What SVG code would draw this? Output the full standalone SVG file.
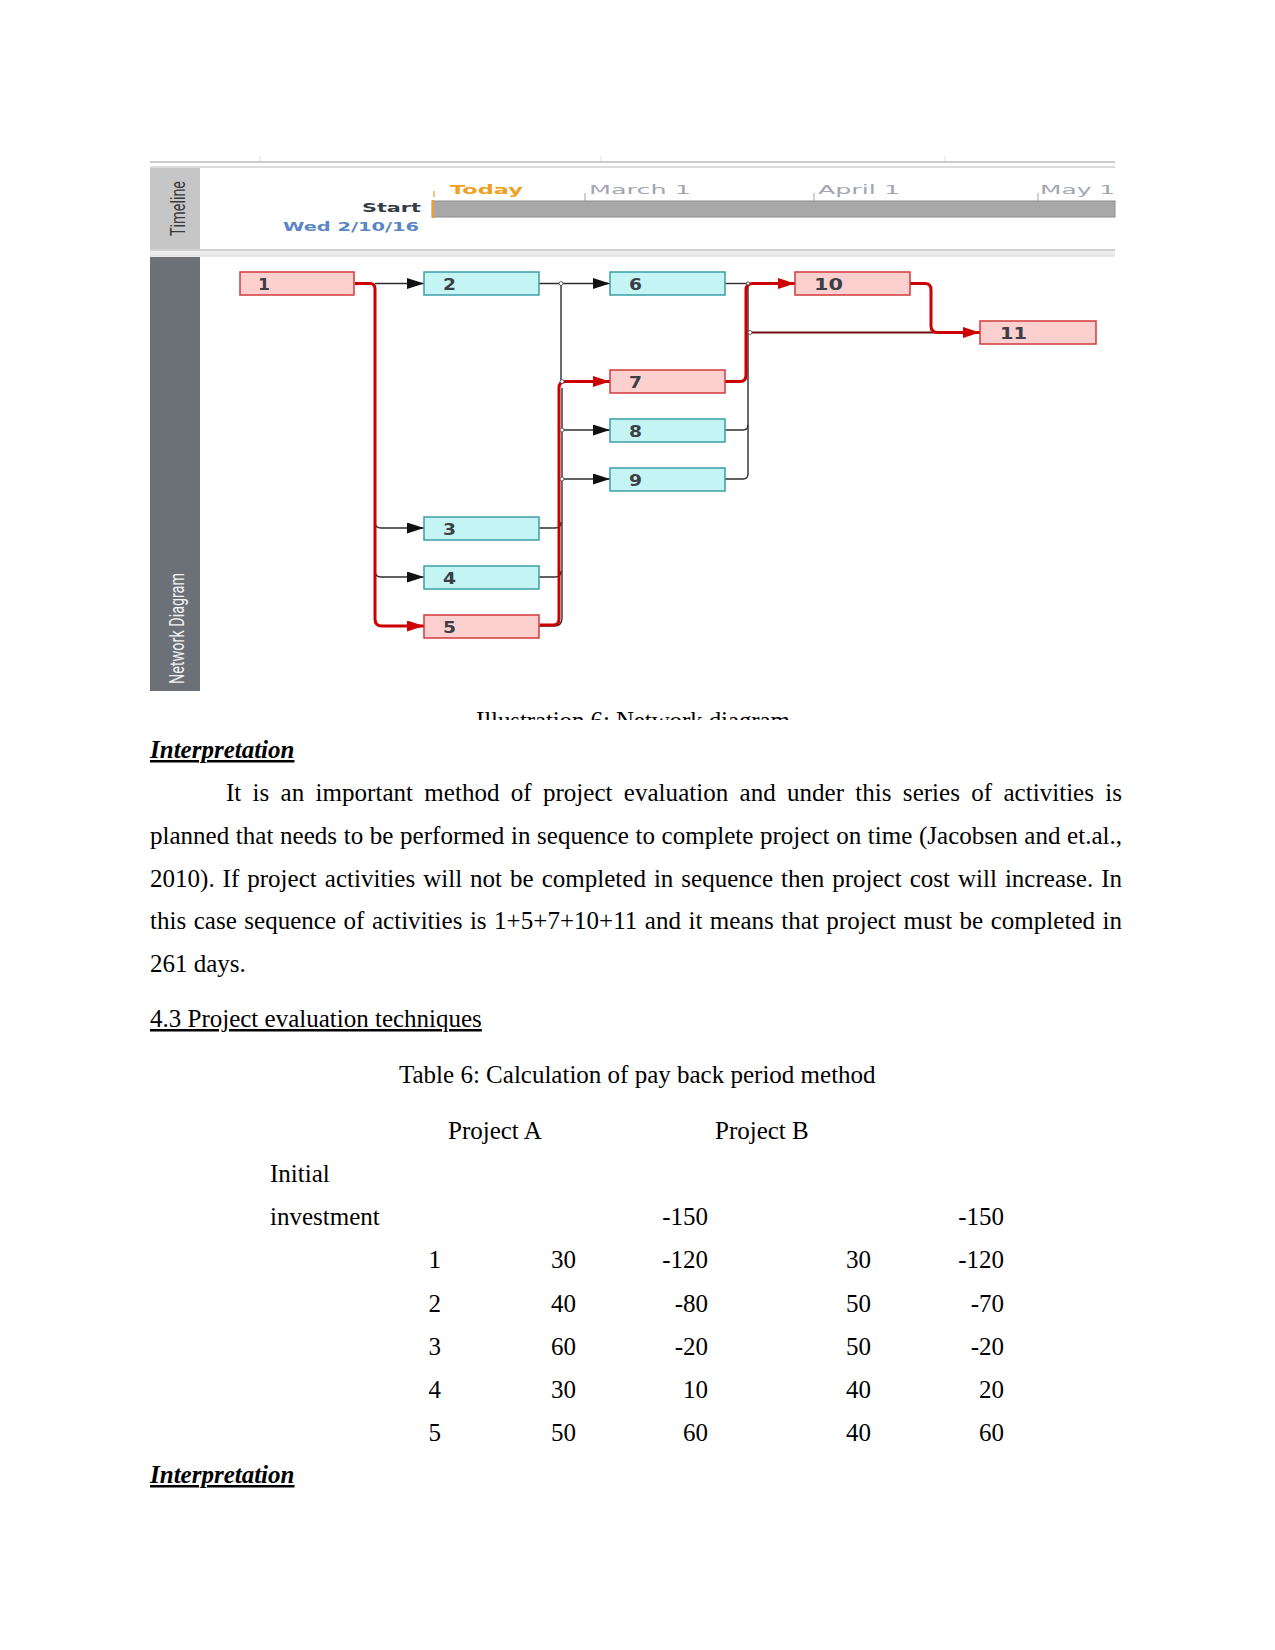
<svg xmlns="http://www.w3.org/2000/svg" width="1275" height="1650" viewBox="0 0 1275 1650">
<style>
.lbl{font-family:"DejaVu Sans",sans-serif;font-weight:bold;font-size:15px;fill:#3a4046}
.nr rect{fill:#fdd0d0;stroke:#d23a3a;stroke-width:1.5}
.nc rect{fill:#c4f4f4;stroke:#3a9ea6;stroke-width:1.5}
.red{fill:none;stroke:#cc0000;stroke-width:3;stroke-linejoin:round}
.blk{fill:none;stroke:#2e2e2e;stroke-width:1.4}
.mar{fill:none;stroke:#6e0a0a;stroke-width:2.2}
.jn{fill:#fff;stroke:#444;stroke-width:0.8}
.body{font-family:"Liberation Serif","Times New Roman",serif;font-size:25px;fill:#000}
.tl{font-family:"DejaVu Sans",sans-serif;font-size:13px}
</style>
<defs>
<marker id="ab" markerWidth="17" markerHeight="11" refX="17" refY="5.5" orient="auto" markerUnits="userSpaceOnUse"><path d="M0,0 L17,5.5 L0,11 Z" fill="#111"/></marker>
<marker id="ar" markerWidth="17" markerHeight="11" refX="17" refY="5.5" orient="auto" markerUnits="userSpaceOnUse"><path d="M0,0 L17,5.5 L0,11 Z" fill="#cc0000"/></marker>
<clipPath id="capclip"><rect x="0" y="690" width="1275" height="30"/></clipPath>
</defs>
<rect width="1275" height="1650" fill="#fff"/>

<!-- Timeline panel -->
<g id="timeline">
<line x1="150" y1="162" x2="1115" y2="162" stroke="#b8b8b8" stroke-width="1.5"/>
<line x1="260" y1="156" x2="260" y2="161" stroke="#ddd"/>
<line x1="601" y1="156" x2="601" y2="161" stroke="#ddd"/>
<line x1="945" y1="156" x2="945" y2="161" stroke="#ddd"/>
<line x1="150" y1="167" x2="1115" y2="167" stroke="#cfcfcf" stroke-width="1.5"/>
<rect x="150" y="168" width="50" height="81" fill="#c6c6c6"/>
<rect x="200" y="168" width="915" height="81" fill="#fff"/>
<text transform="translate(185,236) rotate(-90)" font-family="Roboto,sans-serif" font-size="20" fill="#3a3a3a" textLength="55" lengthAdjust="spacingAndGlyphs">Timeline</text>
<rect x="432" y="201" width="683" height="16" fill="#a8a8a8" stroke="#8c8c8c" stroke-width="1"/>
<line x1="433" y1="200" x2="433" y2="218" stroke="#f0a020" stroke-width="2"/>
<line x1="434" y1="191" x2="434" y2="197" stroke="#f0a020" stroke-width="1.2"/>
<line x1="585" y1="193" x2="585" y2="201" stroke="#a0a4b0" stroke-width="1"/>
<line x1="814" y1="193" x2="814" y2="201" stroke="#a0a4b0" stroke-width="1"/>
<line x1="1038" y1="193" x2="1038" y2="201" stroke="#a0a4b0" stroke-width="1"/>
<text class="tl" x="450" y="194" fill="#f0a020" font-weight="bold" textLength="73" lengthAdjust="spacingAndGlyphs">Today</text>
<text class="tl" x="589" y="194" fill="#a2a6b2" textLength="102" lengthAdjust="spacingAndGlyphs">March 1</text>
<text class="tl" x="818" y="194" fill="#a2a6b2" textLength="82" lengthAdjust="spacingAndGlyphs">April 1</text>
<text class="tl" x="1040" y="194" fill="#a2a6b2" textLength="75" lengthAdjust="spacingAndGlyphs">May 1</text>
<text class="tl" x="362" y="212" fill="#333d47" font-weight="bold" textLength="59" lengthAdjust="spacingAndGlyphs">Start</text>
<text class="tl" x="283" y="231" fill="#5a86c4" font-size="11" font-weight="bold" textLength="136" lengthAdjust="spacingAndGlyphs">Wed 2/10/16</text>
<rect x="150" y="249" width="965" height="7" fill="#ececec"/>
<line x1="150" y1="250" x2="1115" y2="250" stroke="#c8c8c8" stroke-width="1.5"/>
<line x1="150" y1="256" x2="1115" y2="256" stroke="#d4d4d4" stroke-width="1"/>
</g>

<!-- Network diagram panel -->
<g id="network-panel">
<rect x="150" y="257" width="50" height="434" fill="#6c7077"/>
<text transform="translate(184,684) rotate(-90)" font-family="Roboto,sans-serif" font-size="21" fill="#f2f2f2" textLength="111" lengthAdjust="spacingAndGlyphs">Network Diagram</text>
</g>

<!-- Connectors -->
<g id="connectors">
<path class="blk" d="M375,283.5 H424" marker-end="url(#ab)"/>
<path class="blk" d="M375,522 Q375,528 381,528 H424" marker-end="url(#ab)"/>
<path class="blk" d="M375,571 Q375,577 381,577 H424" marker-end="url(#ab)"/>
<path class="red" d="M355,283.5 H370 Q375,283.5 375,289 V619 Q375,626 382,626 H424" marker-end="url(#ar)"/>

<path class="blk" d="M539,283.5 H610" marker-end="url(#ab)"/>
<path class="blk" d="M561,283.5 V381"/>
<path class="blk" d="M539,528 H555 Q561,528 561,522"/>
<path class="blk" d="M539,577 H555 Q561,577 561,571"/>
<path class="blk" d="M539,626 H554 Q562,626 562,618 V388" stroke-width="2.4"/>
<path class="blk" d="M561,430 H610" marker-end="url(#ab)"/>
<path class="blk" d="M561,479 H610" marker-end="url(#ab)"/>
<path class="red" d="M540,625 H553 Q559,625 559,619 V388 Q559,381.5 566,381.5 H610" marker-end="url(#ar)"/>
<circle class="jn" cx="561" cy="283.5" r="2"/>
<circle class="jn" cx="562" cy="381.5" r="2"/>
<circle class="jn" cx="562" cy="430" r="2"/>
<circle class="jn" cx="562" cy="479" r="2"/>

<path class="blk" d="M725,283.5 H748"/>
<path class="blk" d="M725,430 H743 Q748,430 748,425"/>
<path class="blk" d="M725,479 H743 Q748,479 748,474"/>
<path class="blk" d="M748,283.5 V474" stroke-width="2"/>
<path class="red" d="M725,381.5 H740 Q746,381.5 746,375 V290 Q746,283.5 753,283.5 H795" marker-end="url(#ar)"/>
<path class="mar" d="M748,332.5 H965"/>
<path class="red" d="M910,283.5 H925 Q931,283.5 931,290 V326 Q931,332.5 938,332.5 H980" marker-end="url(#ar)"/>
<circle class="jn" cx="750" cy="332.5" r="2"/>
<circle class="jn" cx="748" cy="283.5" r="1.6"/>
</g>

<!-- Nodes -->
<g id="node-1" class="nr"><rect x="240" y="272" width="114" height="23"/><text class="lbl" x="258" y="289.5" textLength="12" lengthAdjust="spacingAndGlyphs">1</text></g>
<g id="node-2" class="nc"><rect x="424" y="272" width="115" height="23"/><text class="lbl" x="443" y="289.5" textLength="13" lengthAdjust="spacingAndGlyphs">2</text></g>
<g id="node-6" class="nc"><rect x="610" y="272" width="115" height="23"/><text class="lbl" x="629" y="289.5" textLength="13" lengthAdjust="spacingAndGlyphs">6</text></g>
<g id="node-10" class="nr"><rect x="795" y="272" width="115" height="23"/><text class="lbl" x="814" y="289.5" textLength="29" lengthAdjust="spacingAndGlyphs">10</text></g>
<g id="node-11" class="nr"><rect x="980" y="321" width="116" height="23"/><text class="lbl" x="1000" y="338.5" textLength="27" lengthAdjust="spacingAndGlyphs">11</text></g>
<g id="node-7" class="nr"><rect x="610" y="370" width="115" height="23"/><text class="lbl" x="629" y="387.5" textLength="13" lengthAdjust="spacingAndGlyphs">7</text></g>
<g id="node-8" class="nc"><rect x="610" y="419" width="115" height="23"/><text class="lbl" x="629" y="436.5" textLength="13" lengthAdjust="spacingAndGlyphs">8</text></g>
<g id="node-9" class="nc"><rect x="610" y="468" width="115" height="23"/><text class="lbl" x="629" y="485.5" textLength="13" lengthAdjust="spacingAndGlyphs">9</text></g>
<g id="node-3" class="nc"><rect x="424" y="517" width="115" height="23"/><text class="lbl" x="443" y="534.5" textLength="13" lengthAdjust="spacingAndGlyphs">3</text></g>
<g id="node-4" class="nc"><rect x="424" y="566" width="115" height="23"/><text class="lbl" x="443" y="583.5" textLength="13" lengthAdjust="spacingAndGlyphs">4</text></g>
<g id="node-5" class="nr"><rect x="424" y="615" width="115" height="23"/><text class="lbl" x="443" y="632.5" textLength="13" lengthAdjust="spacingAndGlyphs">5</text></g>

<!-- Caption (clipped) -->
<g clip-path="url(#capclip)">
<text class="body" x="476" y="728.5" textLength="314">Illustration 6: Network diagram</text>
</g>

<!-- Body text -->
<g id="text">
<text class="body" x="150" y="758" font-weight="bold" font-style="italic" text-decoration="underline">Interpretation</text>
<text class="body" x="226" y="801" word-spacing="5" textLength="896" lengthAdjust="spacing">It is an important method of project evaluation and under this series of activities is</text>
<text class="body" x="150" y="844" word-spacing="0.4" textLength="972" lengthAdjust="spacing">planned that needs to be performed in sequence to complete project on time (Jacobsen and et.al.,</text>
<text class="body" x="150" y="887" word-spacing="1.7" textLength="972" lengthAdjust="spacing">2010). If project activities will not be completed in sequence then project cost will increase. In</text>
<text class="body" x="150" y="929" word-spacing="1.2" textLength="972" lengthAdjust="spacing">this case sequence of activities is 1+5+7+10+11 and it means that project must be completed in</text>
<text class="body" x="150" y="972">261 days.</text>
<text class="body" x="150" y="1027" text-decoration="underline">4.3 Project evaluation techniques</text>
<text class="body" x="399" y="1083">Table 6: Calculation of pay back period method</text>
<text class="body" x="448" y="1139">Project A</text>
<text class="body" x="715" y="1139">Project B</text>
<text class="body" x="270" y="1182">Initial</text>
<text class="body" x="270" y="1225">investment</text>
<text class="body" x="708" y="1225" text-anchor="end">-150</text>
<text class="body" x="1004" y="1225" text-anchor="end">-150</text>
<g text-anchor="end">
<text class="body" x="441" y="1268">1</text><text class="body" x="576" y="1268">30</text><text class="body" x="708" y="1268">-120</text><text class="body" x="871" y="1268">30</text><text class="body" x="1004" y="1268">-120</text>
<text class="body" x="441" y="1312">2</text><text class="body" x="576" y="1312">40</text><text class="body" x="708" y="1312">-80</text><text class="body" x="871" y="1312">50</text><text class="body" x="1004" y="1312">-70</text>
<text class="body" x="441" y="1355">3</text><text class="body" x="576" y="1355">60</text><text class="body" x="708" y="1355">-20</text><text class="body" x="871" y="1355">50</text><text class="body" x="1004" y="1355">-20</text>
<text class="body" x="441" y="1398">4</text><text class="body" x="576" y="1398">30</text><text class="body" x="708" y="1398">10</text><text class="body" x="871" y="1398">40</text><text class="body" x="1004" y="1398">20</text>
<text class="body" x="441" y="1441">5</text><text class="body" x="576" y="1441">50</text><text class="body" x="708" y="1441">60</text><text class="body" x="871" y="1441">40</text><text class="body" x="1004" y="1441">60</text>
</g>
<text class="body" x="150" y="1483" font-weight="bold" font-style="italic" text-decoration="underline">Interpretation</text>
</g>
</svg>
